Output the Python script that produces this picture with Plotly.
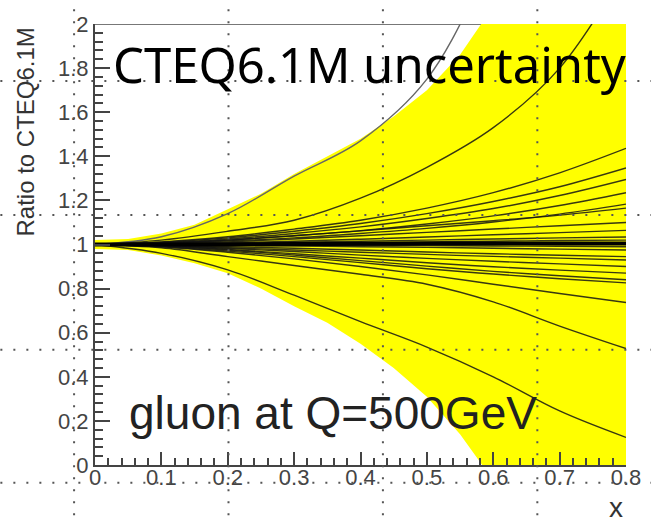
import plotly.graph_objects as go

# x grid shared by all eigenvector-set ratio curves
x_pts = [0.0, 0.1, 0.2, 0.3, 0.4, 0.5, 0.6, 0.7, 0.8]

# ratio of each error PDF set to the central CTEQ6.1M gluon
ratio_sets = [
    [1.00, 1.035, 1.14, 1.31, 1.47, 1.75, 2.30, 2.90, 3.60],
    [1.00, 1.02, 1.06, 1.11, 1.21, 1.35, 1.53, 1.80, 2.25],
    [1.00, 1.012, 1.035, 1.07, 1.11, 1.165, 1.235, 1.325, 1.436],
    [1.00, 1.01, 1.03, 1.06, 1.095, 1.14, 1.195, 1.262, 1.347],
    [1.00, 1.008, 1.025, 1.05, 1.08, 1.118, 1.163, 1.222, 1.295],
    [1.00, 1.007, 1.02, 1.04, 1.063, 1.093, 1.13, 1.177, 1.235],
    [1.00, 1.006, 1.016, 1.03, 1.05, 1.073, 1.102, 1.138, 1.183],
    [1.00, 1.006, 1.02, 1.04, 1.062, 1.085, 1.108, 1.133, 1.165],
    [1.00, 1.004, 1.012, 1.025, 1.04, 1.055, 1.07, 1.085, 1.10],
    [1.00, 1.003, 1.008, 1.015, 1.024, 1.034, 1.044, 1.054, 1.064],
    [1.00, 1.002, 1.005, 1.01, 1.015, 1.02, 1.025, 1.03, 1.034],
    [1.00, 1.001, 1.003, 1.006, 1.009, 1.012, 1.015, 1.018, 1.02],
    [1.00, 1.0, 0.998, 0.997, 0.996, 0.995, 0.993, 0.992, 0.99],
    [1.00, 0.999, 0.996, 0.993, 0.99, 0.987, 0.983, 0.979, 0.975],
    [1.00, 0.997, 0.99, 0.983, 0.975, 0.966, 0.958, 0.951, 0.945],
    [1.00, 0.995, 0.985, 0.975, 0.965, 0.955, 0.946, 0.938, 0.93],
    [1.00, 0.994, 0.982, 0.968, 0.952, 0.937, 0.924, 0.912, 0.90],
    [1.00, 0.993, 0.978, 0.958, 0.938, 0.917, 0.899, 0.884, 0.87],
    [1.00, 0.992, 0.975, 0.952, 0.927, 0.902, 0.878, 0.858, 0.84],
    [1.00, 0.99, 0.97, 0.945, 0.918, 0.89, 0.866, 0.845, 0.826],
    [1.00, 0.99, 0.965, 0.935, 0.90, 0.862, 0.82, 0.778, 0.737],
    [1.00, 0.985, 0.945, 0.905, 0.865, 0.82, 0.74, 0.63, 0.528],
    [1.00, 0.96, 0.885, 0.77, 0.65, 0.535, 0.40, 0.245, 0.125],
]

# central set (drawn heavier)
central = [1.00, 1.0, 1.0, 1.002, 1.003, 1.004, 1.005, 1.005, 1.005]

# uncertainty band edges
band_x = [0.0, 0.05, 0.1, 0.15, 0.2, 0.25, 0.3, 0.35, 0.4, 0.45,
          0.5, 0.55, 0.6, 0.65, 0.7, 0.75, 0.8]
band_hi = [1.02, 1.025, 1.05, 1.09, 1.16, 1.23, 1.32, 1.40, 1.48, 1.58,
           1.70, 1.86, 2.08, 2.4, 2.7, 3.0, 3.3]
band_lo = [0.98, 0.975, 0.95, 0.915, 0.87, 0.80, 0.72, 0.645, 0.55, 0.44,
           0.31, 0.14, -0.07, -0.3, -0.5, -0.7, -0.9]

x_ticks = [0.0, 0.1, 0.2, 0.3, 0.4, 0.5, 0.6, 0.7, 0.8]
y_ticks = [0.0, 0.2, 0.4, 0.6, 0.8, 1.0, 1.2, 1.4, 1.6, 1.8, 2.0]

W, H = 653, 526
L, R, T, B = 95, 25, 17, 61
pw, ph = W - L - R, H - T - B


def px_to_paper_x(px):
    return (px - L) / pw


def py_to_paper_y(py):
    return (H - B - py) / ph


fig = go.Figure()

fig.add_trace(go.Scatter(x=band_x, y=band_lo, mode="lines",
                         line=dict(width=0, color="#ffff00"),
                         hoverinfo="skip", showlegend=False))
fig.add_trace(go.Scatter(x=band_x, y=band_hi, mode="lines", fill="tonexty",
                         fillcolor="#ffff00", line=dict(width=0, color="#ffff00"),
                         hoverinfo="skip", showlegend=False))

for i, ys in enumerate(ratio_sets):
    col = "#666666" if i == 0 else "rgba(20,20,20,0.85)"
    fig.add_trace(go.Scatter(x=x_pts, y=ys, mode="lines",
                             line=dict(color=col, width=1.4, shape="spline"),
                             hoverinfo="skip", showlegend=False))

fig.add_trace(go.Scatter(x=x_pts, y=central, mode="lines",
                         line=dict(color="#000000", width=4, shape="spline"),
                         hoverinfo="skip", showlegend=False))

shapes = [
    # top frame edge, hidden where the band covers it
    dict(type="line", xref="x", yref="y", x0=0, x1=0.8, y0=2, y1=2,
         line=dict(color="#777777", width=2), layer="below"),
]

# dotted guide lines across the whole canvas
for gx in [74, 229, 384, 539]:
    shapes.append(dict(type="line", xref="paper", yref="paper",
                       x0=px_to_paper_x(gx), x1=px_to_paper_x(gx),
                       y0=py_to_paper_y(2), y1=py_to_paper_y(H),
                       line=dict(color="#555555", width=2, dash="2px,10px")))
for gy in [75, 211, 348, 483]:
    shapes.append(dict(type="line", xref="paper", yref="paper",
                       x0=px_to_paper_x(0), x1=px_to_paper_x(W),
                       y0=py_to_paper_y(gy), y1=py_to_paper_y(gy),
                       line=dict(color="#555555", width=2, dash="2px,11px")))

annotations = [
    dict(text="CTEQ6.1M uncertainty", xref="paper", yref="paper",
         x=px_to_paper_x(371), y=py_to_paper_y(58), showarrow=False,
         xanchor="center", yanchor="middle",
         font=dict(family="Noto Sans", size=49, color="#000000")),
    dict(text="gluon at Q=500GeV", xref="paper", yref="paper",
         x=px_to_paper_x(334), y=py_to_paper_y(412), showarrow=False,
         xanchor="center", yanchor="middle",
         font=dict(family="Liberation Sans", size=46, color="#222222")),
    dict(text="Ratio to CTEQ6.1M", xref="paper", yref="paper",
         x=px_to_paper_x(25), y=py_to_paper_y(127), showarrow=False,
         textangle=-90, xanchor="center", yanchor="middle",
         font=dict(family="Liberation Sans", size=24, color="#333333")),
    dict(text="x", xref="paper", yref="paper",
         x=px_to_paper_x(618), y=py_to_paper_y(508), showarrow=False,
         xanchor="center", yanchor="middle",
         font=dict(family="Liberation Sans", size=28, color="#333333")),
]

axis_font = dict(family="Liberation Sans", size=22, color="#444444")

fig.update_layout(
    width=W, height=H, autosize=False,
    margin=dict(l=L, r=R, t=T, b=B, pad=0),
    paper_bgcolor="white", plot_bgcolor="white",
    shapes=shapes, annotations=annotations,
    xaxis=dict(range=[0, 0.8], tickvals=x_ticks, showgrid=False, zeroline=False,
               showline=True, linecolor="#444444", linewidth=2,
               ticks="inside", ticklen=13, tickwidth=1.5, tickcolor="#444444",
               minor=dict(ticks="inside", dtick=0.02, ticklen=7,
                          tickwidth=1.5, tickcolor="#444444"),
               ticklabelstandoff=-8,
               tickfont=axis_font),
    yaxis=dict(range=[0, 2], tickvals=y_ticks, showgrid=False, zeroline=False,
               showline=True, linecolor="#444444", linewidth=2,
               ticks="inside", ticklen=15, tickwidth=1.5, tickcolor="#444444",
               minor=dict(ticks="inside", dtick=0.04, ticklen=8,
                          tickwidth=1.5, tickcolor="#444444"),
               tickfont=axis_font),
)

fig.write_html("out.html")
